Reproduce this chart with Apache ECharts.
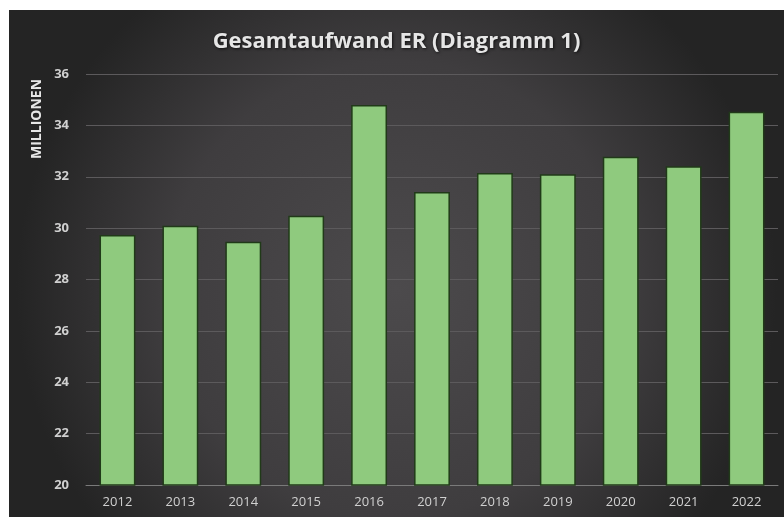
<!DOCTYPE html>
<html>
<head>
<meta charset="utf-8">
<script src="https://cdn.jsdelivr.net/npm/echarts@6/dist/echarts.min.js"></script>
<style>
  html, body { margin: 0; padding: 0; background: #fff; }
  #chart { position: absolute; left: 9px; top: 10px; width: 775px; height: 507px; }
</style>
</head>
<body>
<div id="chart"></div>
<script>
// Daten
const years = ['2012', '2013', '2014', '2015', '2016', '2017', '2018', '2019', '2020', '2021', '2022']
const aufwand = [29.73, 30.09, 29.47, 30.48, 34.79, 31.41, 32.15, 32.1, 32.78, 32.41, 34.53]
const yTicks = [20, 22, 24, 26, 28, 30, 32, 34, 36]

const chart = echarts.init(document.getElementById('chart'))

const option = {
  backgroundColor: {
    type: 'radial',
    x: 0.5,
    y: 0.55,
    r: 0.75,
    colorStops: [
      { offset: 0, color: '#4c4a4c' },
      { offset: 0.6, color: '#3f3d3f' },
      { offset: 1, color: '#242424' }
    ]
  },
  title: {
    text: 'Gesamtaufwand ER (Diagramm 1)',
    left: 'center',
    top: 16,
    textStyle: {
      color: '#e6e6e6',
      fontFamily: 'Open Sans',
      fontWeight: 'bold',
      fontSize: 22,
      textShadowColor: 'rgba(0,0,0,0.7)',
      textShadowBlur: 3,
      textShadowOffsetX: 1,
      textShadowOffsetY: 1
    }
  },
  graphic: [
    {
      type: 'text',
      x: 28,
      y: 109,
      rotation: Math.PI / 2,
      style: {
        text: 'MILLIONEN',
        fill: '#e6e6e6',
        font: 'bold 14px "Open Sans"',
        align: 'center',
        verticalAlign: 'middle'
      }
    }
  ],
  grid: {
    left: 77,
    right: 6,
    top: 64,
    bottom: 32
  },
  xAxis: {
    type: 'category',
    data: years,
    axisLine: { lineStyle: { color: '#7a7a7a', width: 1 } },
    axisTick: { show: false },
    axisLabel: {
      color: '#d0d0d0',
      fontFamily: 'Open Sans',
      fontSize: 13,
      margin: 11
    }
  },
  yAxis: {
    type: 'value',
    min: yTicks[0],
    max: yTicks[yTicks.length - 1],
    interval: 2,
    axisLine: { show: false },
    axisTick: { show: false },
    axisLabel: {
      color: '#d0d0d0',
      fontFamily: 'Open Sans',
      fontWeight: 'bold',
      fontSize: 13,
      margin: 17
    },
    splitLine: { lineStyle: { color: '#5c5a5c', width: 1 } }
  },
  series: [
    {
      type: 'bar',
      data: aufwand,
      barWidth: '57%',
      itemStyle: {
        color: '#8fca7e',
        borderColor: '#203a18',
        borderWidth: 1.5
      }
    }
  ]
}

chart.setOption(option)
</script>
</body>
</html>
